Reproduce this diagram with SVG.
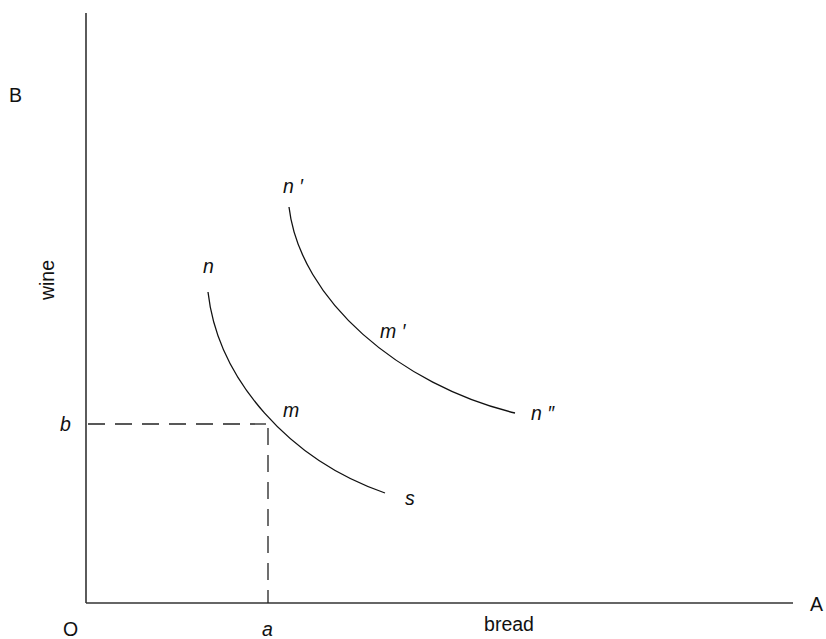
<svg xmlns="http://www.w3.org/2000/svg" width="826" height="639" viewBox="0 0 826 639">
<style>
.ax{stroke:#333;stroke-width:1.6;fill:none}
.cv{stroke:#111;stroke-width:1.3;fill:none}
.dash{stroke:#222;stroke-width:1.3;fill:none;stroke-dasharray:17 10}
text{font-family:"Liberation Sans",Arial,sans-serif;font-size:19.5px;fill:#111}
.it{font-style:italic}
</style>
<rect width="826" height="639" fill="#fff"/>
<g id="axes">
<line class="ax" x1="86" y1="13" x2="86" y2="603"/>
<line class="ax" x1="86" y1="603" x2="793" y2="603"/>
</g>
<g id="guides">
<line class="dash" x1="88" y1="424" x2="266" y2="424"/>
<line class="dash" x1="268" y1="428" x2="268" y2="603"/>
</g>
<g id="curve1">
<path class="cv" d="M208,292 C218,380 290,460 385,493"/>
</g>
<g id="curve2">
<path class="cv" d="M289,207 C300,300 400,385 515,413"/>
</g>
<g id="labels">
<text x="9" y="102">B</text>
<text transform="translate(54,280) rotate(-90)" text-anchor="middle">wine</text>
<text x="63" y="636">O</text>
<text class="it" x="262" y="636">a</text>
<text x="509" y="631" text-anchor="middle">bread</text>
<text x="810" y="611">A</text>
<text class="it" x="60" y="431">b</text>
<text class="it" x="203" y="273">n</text>
<text class="it" x="283" y="193">n ′</text>
<text class="it" x="380" y="338">m ′</text>
<text class="it" x="283" y="417">m</text>
<text class="it" x="531" y="420">n ″</text>
<text class="it" x="405" y="505">s</text>
</g>
</svg>
